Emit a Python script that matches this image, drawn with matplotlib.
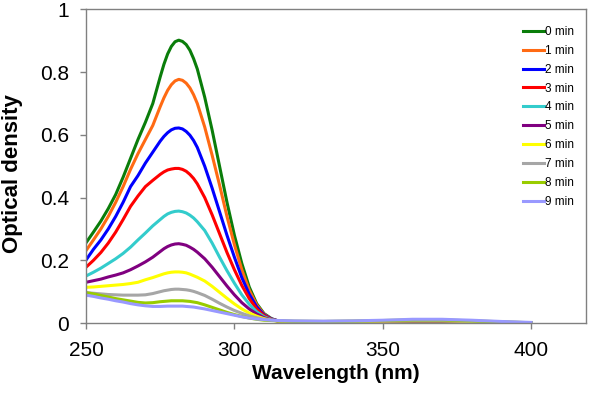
import matplotlib
matplotlib.use("Agg")
import matplotlib.pyplot as plt
from matplotlib.ticker import FuncFormatter

plt.rcParams['font.family'] = ['Liberation Sans', 'DejaVu Sans']

# wavelength grid (nm), denser around the absorption maximum
wavelength = [250, 252.5, 255, 257.5, 260, 262.5, 265, 267.5, 270, 272.5, 275,
              276.25, 277.5, 278.75, 280, 281.25, 282.5, 283.75, 285, 286.25, 287.5,
              290, 292.5, 295, 297.5, 300, 302.5, 305, 307.5, 310, 312.5, 315,
              320, 330, 340, 350, 360, 370, 380, 390, 400]

od_0 = [.256, .29, .325, .365, .41, .465, .525, .585, .64, .70, .785,
        .825, .858, .882, .897, .902, .898, .888, .87, .843, .81,
        .72, .615, .50, .385, .28, .19, .115, .062, .03, .014, .006,
        .002, .001, .001, .002, .003, .003, .002, .001, 0]
od_1 = [.231, .265, .30, .34, .385, .435, .49, .54, .585, .63, .69,
        .718, .742, .76, .772, .777, .774, .765, .75, .728, .70,
        .625, .535, .44, .34, .25, .17, .105, .058, .028, .013, .006,
        .003, .002, .003, .004, .005, .005, .003, .001, 0]
od_2 = [.201, .235, .265, .30, .34, .385, .435, .47, .51, .545, .58,
        .595, .607, .616, .621, .622, .619, .611, .599, .582, .56,
        .50, .43, .355, .28, .21, .145, .092, .052, .026, .013, .006,
        .003, .002, .003, .004, .005, .005, .003, .001, 0]
od_3 = [.178, .20, .225, .255, .29, .33, .372, .405, .435, .455, .474,
        .482, .488, .491, .493, .493, .49, .484, .474, .461, .444,
        .40, .345, .285, .225, .17, .12, .078, .045, .024, .012, .006,
        .003, .002, .003, .004, .005, .005, .003, .001, 0]
od_4 = [.15, .162, .175, .19, .205, .222, .242, .265, .287, .31, .33,
        .34, .348, .353, .356, .357, .355, .351, .344, .335, .323,
        .295, .255, .21, .167, .127, .09, .06, .036, .02, .011, .006,
        .003, .003, .004, .005, .006, .006, .004, .002, 0]
od_5 = [.13, .135, .14, .147, .153, .16, .17, .182, .195, .21, .228,
        .237, .244, .249, .252, .253, .251, .248, .242, .235, .226,
        .205, .178, .148, .118, .09, .065, .045, .029, .017, .01, .006,
        .004, .003, .004, .005, .006, .006, .004, .002, 0]
od_6 = [.114, .115, .117, .119, .121, .123, .126, .13, .138, .145, .153,
        .157, .16, .162, .163, .163, .162, .16, .156, .151, .146,
        .134, .117, .098, .079, .061, .045, .032, .022, .014, .009, .006,
        .004, .004, .005, .006, .007, .007, .005, .002, 0]
od_7 = [.097, .095, .093, .091, .09, .089, .089, .089, .09, .094, .1,
        .103, .105, .107, .108, .108, .107, .106, .104, .101, .097,
        .088, .076, .063, .051, .04, .031, .023, .017, .012, .009, .007,
        .005, .005, .006, .007, .008, .008, .006, .003, .001]
od_8 = [.097, .093, .088, .083, .078, .074, .07, .066, .064, .065, .068,
        .069, .07, .071, .071, .071, .071, .07, .069, .067, .065,
        .058, .05, .042, .034, .027, .021, .016, .012, .009, .008, .007,
        .006, .005, .006, .008, .010, .010, .007, .004, .001]
od_9 = [.089, .085, .08, .076, .071, .067, .062, .058, .055, .053, .053,
        .0535, .054, .054, .054, .054, .054, .053, .052, .051, .049,
        .045, .04, .035, .03, .025, .02, .016, .013, .011, .009, .008,
        .007, .006, .007, .009, .012, .012, .009, .005, .002]

series = [od_0, od_1, od_2, od_3, od_4, od_5, od_6, od_7, od_8, od_9]
labels = ['0 min', '1 min', '2 min', '3 min', '4 min',
          '5 min', '6 min', '7 min', '8 min', '9 min']
colors = ['#0a7d0a', '#ff6a13', '#0000ff', '#ff0000', '#33cccc',
          '#800080', '#ffff00', '#a6a6a6', '#99cc00', '#9999ff']

fig = plt.figure(figsize=(5.9, 3.93), dpi=100)
ax = fig.add_axes([0.1458, 0.178, 0.8475, 0.798])

for vals, lab, col in zip(series, labels, colors):
    ax.plot(wavelength, vals, color=col, lw=2.2, label=lab)

ax.set_xlim(250, 418.5)
ax.set_ylim(0, 1)
ax.set_xticks([250, 300, 350, 400])
ax.set_yticks([0, 0.2, 0.4, 0.6, 0.8, 1])
ax.yaxis.set_major_formatter(FuncFormatter(lambda v, p: '%g' % v))

for s in ax.spines.values():
    s.set_color('#808080')
    s.set_linewidth(1.0)
ax.tick_params(direction='out', length=4, width=1, color='#808080', labelsize=15)
ax.tick_params(axis='x', pad=9)
ax.tick_params(axis='y', pad=8)

ax.set_xlabel('Wavelength (nm)', fontsize=15, fontweight='bold', labelpad=3)
ax.set_ylabel('Optical density', fontsize=16, fontweight='bold')
ax.yaxis.set_label_coords(-0.126, 0.478)

ax.legend(loc='upper right', frameon=False, fontsize=8.5, handlelength=1.7,
          handletextpad=0.15, labelspacing=0.585, borderaxespad=0.3,
          bbox_to_anchor=(0.993, 0.974))

fig.savefig('out.png', dpi=100)
